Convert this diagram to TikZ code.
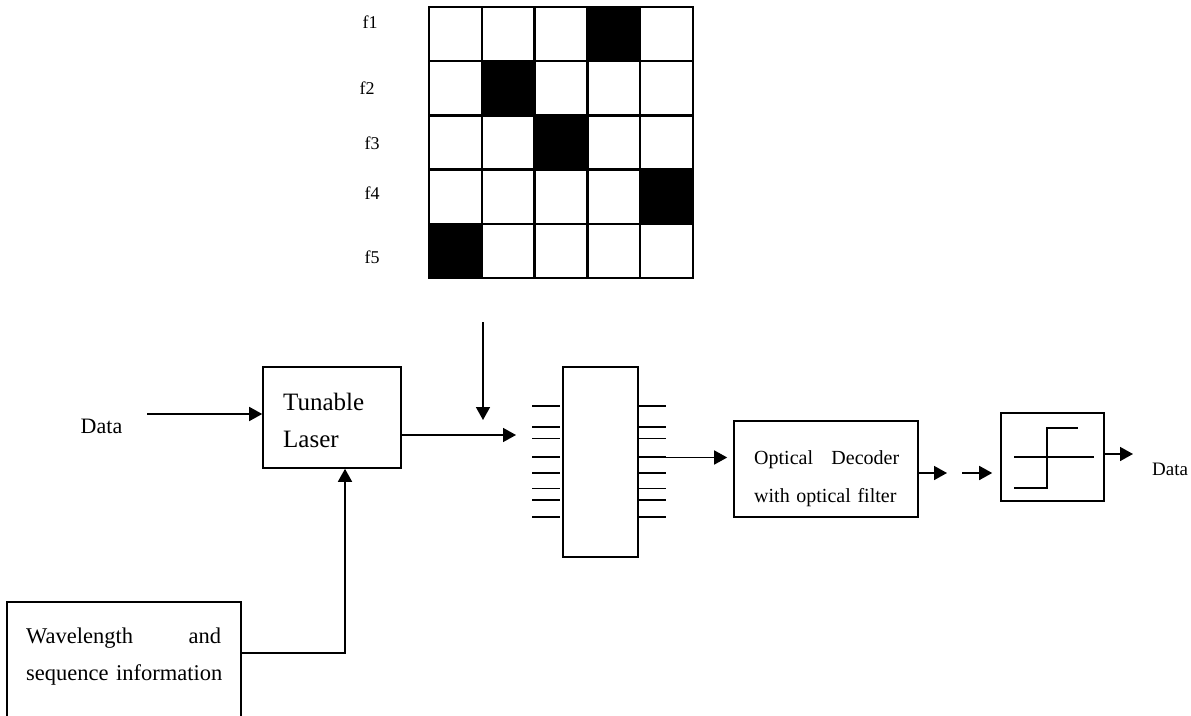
\documentclass[tikz,border=0pt]{standalone}
\usepackage{fontspec}
\setmainfont{Liberation Serif}
\usepackage{tikz}
\usetikzlibrary{arrows.meta, positioning, calc}
\tikzset{
  blockbox/.style={
    draw, line width=1.6pt, inner sep=0pt, fill=white
  },
  sigarrow/.style={
    -{Triangle[length=13pt,width=14pt]}, line width=1.6pt
  },
  sigline/.style={
    line width=1.6pt
  },
  blocktext/.style={
    anchor=base west, inner sep=0pt, align=left
  },
  freqlabel/.style={
    inner sep=0pt, font=\fontsize{18}{20}\selectfont
  },
  gridline/.style={
    line width=2.4pt, line cap=rect
  },
}

\begin{document}
\begin{tikzpicture}[x=1pt, y=-1pt]
  \useasboundingbox (0,0) rectangle (1191,715);

  % === Code matrix ===
  \foreach \row/\col in {1/4, 2/2, 3/3, 4/5, 5/1}
    \fill[black] ({429+(\col-1)*52.8}, {7+(\row-1)*54.2}) rectangle ++(52.8, 54.2);
  \foreach \i in {0,...,5} {
    \draw[gridline] ({429+\i*52.8}, 7) -- ++(0, 271);
    \draw[gridline] (429, {7+\i*54.2}) -- ++(264, 0);
  }
  \node[freqlabel] (f1) at (370, 22) {f1};
  \node[freqlabel] (f2) at (367, 88) {f2};
  \node[freqlabel] (f3) at (372, 143) {f3};
  \node[freqlabel] (f4) at (372, 193) {f4};
  \node[freqlabel] (f5) at (372, 257) {f5};

  % === Blocks ===
  \node[blockbox, minimum width=138pt, minimum height=101pt] (laser) at (332, 417.5) {};
  \node[blocktext, text width=120pt, font=\fontsize{25}{37}\selectfont] (lasertext) at (283, 410) {Tunable\\Laser};

  \node[blockbox, minimum width=234pt, minimum height=123pt] (wave) at (124, 663.5) {};
  \node[blocktext, text width=195pt, font=\fontsize{22.5}{37}\selectfont] (wavetext) at (26, 643)
    {\hyphenpenalty=10000 Wavelength\hfill and\\\mbox{sequence information}};

  \node[blockbox, minimum width=75pt, minimum height=190pt] (mux) at (600.5, 462) {};
  \foreach \y in {406, 427, 438.5, 457, 473, 488.5, 500, 517} {
    \draw[sigline] (532, \y) -- (560, \y);
    \draw[sigline] (639, \y) -- (666, \y);
  }

  \node[blockbox, minimum width=184pt, minimum height=96pt] (decoder) at (826, 469) {};
  \node[blocktext, text width=145pt, font=\fontsize{20}{38}\selectfont] (decodertext) at (754, 464)
    {Optical\hfill Decoder\\with optical filter};

  \node[blockbox, minimum width=103pt, minimum height=88pt] (thresh) at (1052.5, 457) {};
  \draw[sigline] (1014, 457) -- (1094, 457);
  \draw[sigline] (1014, 488) -- (1047, 488) -- (1047, 428) -- (1078, 428);

  \node[inner sep=0pt, anchor=base, font=\fontsize{22}{24}\selectfont] (datain) at (101.5, 433) {Data};
  \node[inner sep=0pt, anchor=base west, font=\fontsize{19}{22}\selectfont] (dataout) at (1152, 475) {Data};

  % === Connectors ===
  \coordinate (datastart) at (147, 414);
  \coordinate (codetop) at (483, 322);
  \coordinate (codetip) at (483, 420);
  \coordinate (muxin) at (516, 435);
  \coordinate (muxout) at (663, 457.5);
  \coordinate (wavebend) at (345, 653);
  \coordinate (decend) at (947, 473);
  \coordinate (threshin) at (962, 473);
  \coordinate (threshend) at (1133, 454);

  \draw[sigarrow] (datastart) -- (laser.west |- datastart);
  \draw[sigarrow] (wave.east |- wavebend) -- (wavebend) -- (laser.south -| wavebend);
  \draw[sigarrow] (laser.east |- muxin) -- (muxin);
  \draw[sigarrow] (codetop) -- (codetip);
  \draw[sigarrow, shorten >=6pt] (muxout) -- (decoder.west |- muxout);
  \draw[sigarrow] (decoder.east |- decend) -- (decend);
  \draw[sigarrow, shorten >=8pt] (threshin) -- (thresh.west |- threshin);
  \draw[sigarrow] (thresh.east |- threshend) -- (threshend);

\end{tikzpicture}
\end{document}
